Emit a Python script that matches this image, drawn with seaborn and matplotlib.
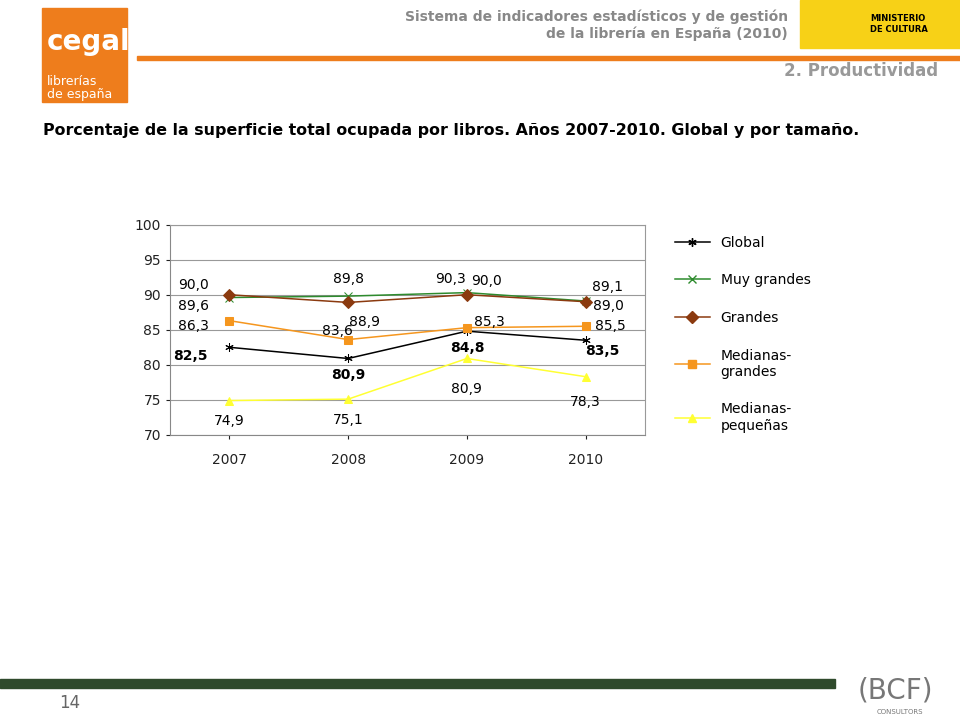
import matplotlib
matplotlib.use("Agg")
import matplotlib.pyplot as plt
import seaborn as sns
import pandas as pd
from matplotlib.patches import Rectangle

# --- data ---
years = ["2007", "2008", "2009", "2010"]
global_vals = [82.5, 80.9, 84.8, 83.5]
muy_grandes = [89.6, 89.8, 90.3, 89.1]
grandes = [90.0, 88.9, 90.0, 89.0]
medianas_grandes = [86.3, 83.6, 85.3, 85.5]
medianas_pequenas = [74.9, 75.1, 80.9, 78.3]

series_names = ["Global", "Muy grandes", "Grandes", "Medianas-\ngrandes", "Medianas-\npequeñas"]
series_vals = [global_vals, muy_grandes, grandes, medianas_grandes, medianas_pequenas]
colors = ["#000000", "#2e8b2e", "#8b3a0f", "#f5961e", "#ffff33"]
markers = [(6, 2, 0), "x", "D", "s", "^"]
# label offsets (points) per series per year
offsets = [
    [(-28, -6), (0, -12), (0, -12), (12, -8)],
    [(-26, -6), (0, 12), (-12, 10), (16, 10)],
    [(-26, 7), (12, -14), (14, 10), (16, -3)],
    [(-26, -4), (-8, 6), (16, 4), (18, 0)],
    [(0, -15), (0, -15), (0, -22), (0, -18)],
]

fig = plt.figure(figsize=(9.6, 7.2), dpi=100)
ax = fig.add_axes([0.177, 0.396, 0.495, 0.292])
for name, vals, c, m in zip(series_names, series_vals, colors, markers):
    d = pd.DataFrame({"year": years, "value": vals})
    sns.lineplot(data=d, x="year", y="value", color=c, marker=m, ax=ax,
                 markersize=6, linewidth=1.1, sort=False, markeredgecolor=c)
ax.set_ylim(70, 100)
ax.set_yticks(range(70, 101, 5))
ax.set_xlim(-0.5, 3.5)
ax.set_xlabel("")
ax.set_ylabel("")
ax.grid(axis="y", color="#999999", linewidth=0.8)
for s in ["top", "right"]:
    ax.spines[s].set_color("#999999")
for s in ["left", "bottom"]:
    ax.spines[s].set_color("#888888")
ax.tick_params(labelsize=10, length=3, colors="#222222")
ax.tick_params(axis="x", pad=10)

for i, vals in enumerate(series_vals):
    for j, v in enumerate(vals):
        ax.annotate(f"{v:.1f}".replace(".", ","), (j, v), xytext=offsets[i][j],
                    textcoords="offset points", ha="center", va="center",
                    fontsize=10, fontweight="bold" if i == 0 else "normal")

handles = [plt.Line2D([], [], color=c, marker=m, markersize=6, linewidth=1.1, markeredgecolor=c)
           for c, m in zip(colors, markers)]
fig.legend(handles, series_names, loc="upper left", bbox_to_anchor=(0.69, 0.69),
           frameon=False, fontsize=10, labelspacing=1.7, handlelength=2.5)

# --- page decoration ---
fig.patches.append(Rectangle((42/960, 1-102/720), 85/960, 94/720, transform=fig.transFigure, color="#ee7d1c"))
fig.text(47/960, 1-50/720, "cegal", color="white", fontsize=20, fontweight="bold")
fig.text(47/960, 1-98/720, "librerías\nde españa", color="white", fontsize=9, linespacing=1.0)
fig.patches.append(Rectangle((137/960, 1-60/720), 823/960, 4/720, transform=fig.transFigure, color="#ee7d1c"))
fig.patches.append(Rectangle((800/960, 1-48/720), 160/960, 48/720, transform=fig.transFigure, color="#f7d117"))
fig.text(870/960, 1-24/720, "MINISTERIO\nDE CULTURA", fontsize=6, fontweight="bold", va="center")
fig.text(788/960, 1-10/720, "Sistema de indicadores estadísticos y de gestión\nde la librería en España (2010)",
         ha="right", va="top", fontsize=10, color="#888888", fontweight="bold")
fig.text(938/960, 1-71/720, "2. Productividad", ha="right", va="center", fontsize=12,
         color="#999999", fontweight="bold")
fig.text(43/960, 1-131/720,
         "Porcentaje de la superficie total ocupada por libros. Años 2007-2010. Global y por tamaño.",
         fontsize=11.4, fontweight="bold", va="center")
fig.patches.append(Rectangle((0, 1-688/720), 835/960, 9/720, transform=fig.transFigure, color="#2f4a2c"))
fig.text(70/960, 1-703/720, "14", fontsize=12, color="#666666", ha="center", va="center")
fig.text(895/960, 1-690/720, "(BCF)", fontsize=20, color="#777777", ha="center", va="center")
fig.text(900/960, 1-712/720, "CONSULTORS", fontsize=5, color="#777777", ha="center", va="center")

fig.savefig("out.png", dpi=100)
